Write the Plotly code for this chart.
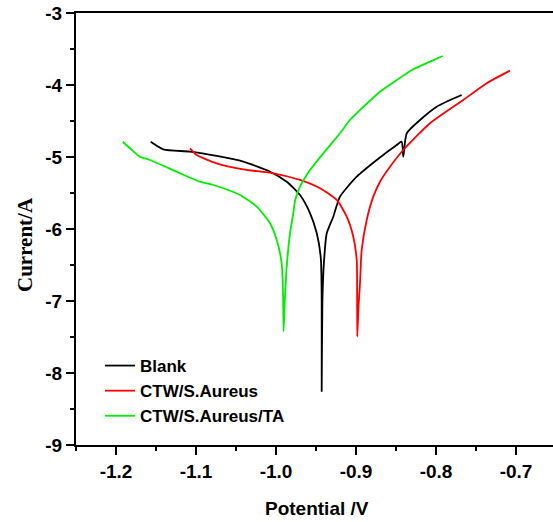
import plotly.graph_objects as go

# Blank
blank_x = [-1.1566, -1.1409, -1.1075, -1.0741, -1.0409, -1.0075, -0.9866, -0.9700, -0.9575,
           -0.9491, -0.9440, -0.9429, -0.9429, -0.9420, -0.9400, -0.9366, -0.9284, -0.9200,
           -0.8991, -0.8741, -0.8491, -0.8429, -0.8409, -0.8366, -0.8200, -0.7991, -0.7679]
blank_y = [-4.788, -4.893, -4.926, -4.986, -5.065, -5.204, -5.343, -5.528, -5.778,
           -6.056, -6.400, -7.000, -8.260, -7.000, -6.450, -6.060, -5.829, -5.551,
           -5.274, -5.042, -4.833, -4.788, -4.996, -4.671, -4.486, -4.301, -4.139]

# CTW/S.Aureus
ctw_x = [-1.1075, -1.0991, -1.0741, -1.0409, -1.0034, -0.9700, -0.9450, -0.9241, -0.9116,
         -0.9034, -0.8991, -0.8986, -0.8984, -0.8970, -0.8950, -0.8929, -0.8866, -0.8784,
         -0.8700, -0.8575, -0.8409, -0.8075, -0.7659, -0.7366, -0.7075]
ctw_y = [-4.879, -4.972, -5.088, -5.171, -5.226, -5.319, -5.435, -5.597, -5.829,
         -6.107, -6.431, -6.900, -7.496, -7.100, -6.754, -6.292, -5.875, -5.551,
         -5.343, -5.135, -4.903, -4.532, -4.208, -3.976, -3.801]

# CTW/S.Aureus/TA
ta_x = [-1.1916, -1.1825, -1.1700, -1.1575, -1.1200, -1.0950, -1.0784, -1.0450, -1.0241,
        -1.0075, -0.9991, -0.9929, -0.9912, -0.9905, -0.9890, -0.9866, -0.9825, -0.9784,
        -0.9760, -0.9700, -0.9575, -0.9409, -0.9200, -0.9075, -0.8700, -0.8491, -0.8284,
        -0.8075, -0.7916]
ta_y = [-4.788, -4.879, -4.996, -5.042, -5.226, -5.343, -5.389, -5.528, -5.690,
        -5.921, -6.153, -6.477, -6.900, -7.420, -7.000, -6.520, -6.060, -5.782,
        -5.597, -5.412, -5.181, -4.949, -4.671, -4.486, -4.093, -3.931, -3.782,
        -3.676, -3.597]

names = ["Blank", "CTW/S.Aureus", "CTW/S.Aureus/TA"]
colors = ["#000000", "#ff0000", "#00ee00"]

x_tickvals = [-1.2, -1.1, -1.0, -0.9, -0.8, -0.7]
x_ticktext = ["-1.2", "-1.1", "-1.0", "-0.9", "-0.8", "-0.7"]
y_tickvals = [-9, -8, -7, -6, -5, -4, -3]
y_ticktext = ["-9", "-8", "-7", "-6", "-5", "-4", "-3"]

x_title = "Potential /V"
y_title = "Current/A"

fig = go.Figure()
for xs, ys, nm, c in [(blank_x, blank_y, names[0], colors[0]),
                      (ctw_x, ctw_y, names[1], colors[1]),
                      (ta_x, ta_y, names[2], colors[2])]:
    fig.add_trace(go.Scatter(x=xs, y=ys, mode="lines", name=nm,
                             line=dict(color=c, width=1.8, shape="spline", smoothing=0.6)))

# plot area runs past the right edge of the window (the reference is cropped there)
W, H = 564, 522
L, T, B = 76, 13, 77
px_per_v = 800.0
x0 = -1.25
x1 = x0 + (W - L) / px_per_v

tickfont = dict(family="Arial", size=19, color="black", weight="bold")
fig.update_layout(
    width=W, height=H,
    margin=dict(l=L, r=0, t=T, b=B),
    plot_bgcolor="white", paper_bgcolor="white",
    showlegend=True,
    legend=dict(x=24 / (W - L), y=0.2245, xanchor="left", yanchor="top",
                bgcolor="rgba(0,0,0,0)",
                font=dict(family="Arial", size=17, color="black", weight="bold")),
    xaxis=dict(range=[x0, x1], tickmode="array", tickvals=x_tickvals, ticktext=x_ticktext,
               automargin=False, ticklabeloverflow="allow",
               showgrid=False, zeroline=False, showline=True, linecolor="black",
               linewidth=2, mirror=True, ticks="outside", ticklen=8, tickwidth=1.5,
               tickcolor="black", tickfont=tickfont,
               minor=dict(ticks="outside", ticklen=4, tickwidth=1.5, tickcolor="black", dtick=0.05, tick0=-1.25)),
    yaxis=dict(range=[-9, -3], tickmode="array", tickvals=y_tickvals, ticktext=y_ticktext,
               automargin=False, ticklabeloverflow="allow",
               showgrid=False, zeroline=False, showline=True,
               linecolor="black", linewidth=2, mirror=False, ticks="outside", ticklen=8,
               tickwidth=1.5, tickcolor="black", tickfont=tickfont,
               minor=dict(ticks="outside", ticklen=4, tickwidth=1.5, tickcolor="black", dtick=0.5, tick0=-9)),
    annotations=[
        dict(text=x_title, xref="paper", yref="paper", x=(317 - L) / (W - L), y=-0.146,
             xanchor="center", yanchor="middle", showarrow=False,
             font=dict(family="Arial", size=19, color="black", weight="bold")),
        dict(text=y_title, xref="paper", yref="paper", x=(25 - L) / (W - L), y=0.463,
             xanchor="center", yanchor="middle", showarrow=False, textangle=-90,
             font=dict(family="Liberation Serif", size=21, color="black", weight="bold")),
    ],
)
fig.write_html("out.html", config={"displayModeBar": False},
               post_script="document.body.style.margin='0px';document.body.style.overflow='hidden';")
